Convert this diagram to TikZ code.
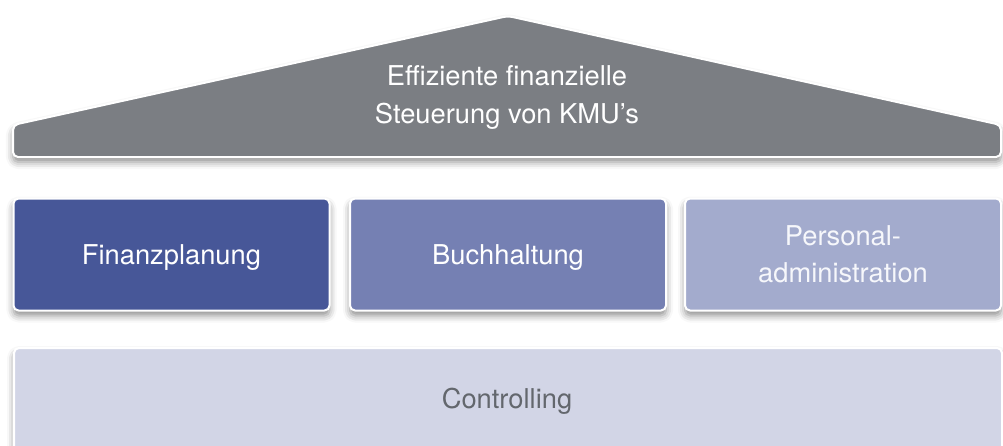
\documentclass[tikz,border=0pt]{standalone}
\usepackage{fontspec}
\setmainfont{TeX Gyre Heros}
\usetikzlibrary{shadows.blur}
\definecolor{roofc}{HTML}{7B7E83}
\definecolor{finc}{HTML}{475798}
\definecolor{buchc}{HTML}{7580B3}
\definecolor{persc}{HTML}{A3ABCD}
\definecolor{contc}{HTML}{D2D5E6}
\definecolor{conttext}{HTML}{63676D}
\definecolor{perstext}{HTML}{F6F7FB}
\tikzset{
  pillar/.style={draw=white, line width=2pt, rounded corners=5pt,
    blur shadow={shadow xshift=0pt, shadow yshift=-5pt, shadow blur radius=7pt, shadow opacity=45},
    minimum width=316pt, minimum height=112pt, align=center, text=white,
    font=\fontsize{27.3}{37}\selectfont, inner sep=0pt},
  lbl/.style={align=center, font=\fontsize{27.3}{38}\selectfont, inner sep=0pt}
}
\begin{document}
\begin{tikzpicture}[x=1pt,y=-1pt]
\useasboundingbox (0,0) rectangle (1003,445);
% roof
\path[fill=roofc, draw=white, line width=2pt, rounded corners=5pt,
  blur shadow={shadow xshift=0pt, shadow yshift=-5pt, shadow blur radius=7pt, shadow opacity=45}]
  (13,157) -- (13,125) -- (508,16) -- (1001,125) -- (1001,157) -- cycle;
\node[lbl, text=white] (roof) at (507,97) {Effiziente finanzielle\\Steuerung von KMU’s};
% foundation
\node[pillar, fill=contc, text=conttext, minimum width=988pt, minimum height=130pt, anchor=north west] (cont) at (13,347) {};
\node[lbl, text=conttext] (contl) at (507,401) {Controlling};
% pillars
\node[pillar, fill=finc, text depth=0pt] (fin) at (171.5,254.5) {Finanzplanung};
\node[pillar, fill=buchc, text depth=0pt] (buch) at (508,254.5) {Buchhaltung};
\node[pillar, fill=persc, text=perstext] (pers) at (843,254.5) {Personal-\\administration};
\end{tikzpicture}
\end{document}
